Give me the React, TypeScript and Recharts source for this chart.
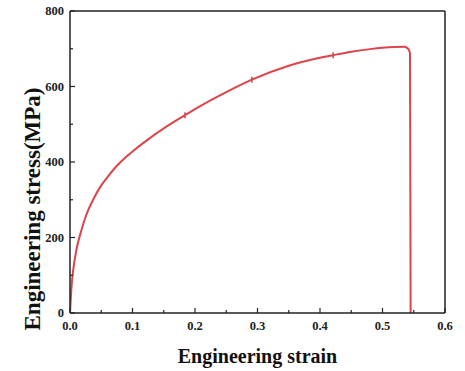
import React from "react";
import { LineChart, Line, XAxis, YAxis, ReferenceLine } from "recharts";

// strain / stress
const strain = [
  0, 0.002, 0.005, 0.01, 0.018, 0.025, 0.037, 0.05, 0.06, 0.075, 0.09, 0.1,
  0.125, 0.15, 0.184, 0.2, 0.25, 0.291, 0.35, 0.4, 0.421, 0.45, 0.48, 0.5, 0.52,
  0.535, 0.541, 0.544, 0.545,
];
const stress = [
  0, 60, 112, 165, 218, 255, 300, 338, 360, 390, 414, 428, 460, 489, 524, 540,
  585, 618, 655, 676, 683, 692, 699, 702.5, 704.5, 705, 700, 688, 0,
];
// little marks on the curve
const marked = [0.184, 0.291, 0.421];

const xTicks = [0, 0.05, 0.1, 0.15, 0.2, 0.25, 0.3, 0.35, 0.4, 0.45, 0.5, 0.55, 0.6];
const yTicks = [0, 100, 200, 300, 400, 500, 600, 700, 800];

const data = strain.map((s, i) => ({ strain: s, stress: stress[i] }));

const FONT = "'Liberation Serif', 'Times New Roman', serif";
const tickStyle = { fontFamily: FONT, fontWeight: "bold" as const, fontSize: 12.5, fill: "#222" };

const XTick = (props: any) => {
  const { x, y, payload } = props;
  const v = payload.value as number;
  const major = Math.round(v * 100) % 10 === 0;
  return (
    <g>
      <line x1={x} x2={x} y1={y} y2={y - (major ? 5 : 3)} stroke="#222" strokeWidth={1.2} />
      {major && (
        <text x={x} y={y + 17} textAnchor="middle" style={tickStyle}>
          {v.toFixed(1)}
        </text>
      )}
    </g>
  );
};

const YTick = (props: any) => {
  const { x, y, payload } = props;
  const v = payload.value as number;
  const major = v % 200 === 0;
  return (
    <g>
      <line x1={x} x2={x + (major ? 5 : 3)} y1={y} y2={y} stroke="#222" strokeWidth={1.2} />
      {major && (
        <text x={x - 6} y={y + 4} textAnchor="end" style={tickStyle}>
          {v}
        </text>
      )}
    </g>
  );
};

const YLabel = (props: any) => {
  const vb = props.viewBox || {};
  const cx = 32;
  const cy = (vb.y ?? 11) + (vb.height ?? 302) / 2 + 47;
  return (
    <text
      x={cx}
      y={cy}
      transform={`rotate(-90, ${cx}, ${cy})`}
      textAnchor="middle"
      dominantBaseline="central"
      style={{ fontFamily: FONT, fontWeight: "bold", fontSize: 23, fill: "#111" }}
    >
      Engineering stress(MPa)
    </text>
  );
};

const Dot = (props: any) => {
  const { cx, cy, payload } = props;
  if (!marked.includes(payload.strain)) return <g />;
  return <line x1={cx} x2={cx} y1={cy - 3} y2={cy + 3} stroke="#d9434a" strokeWidth={1.5} />;
};

export default function App() {
  return (
    <div style={{ position: "absolute", left: 0, top: 0, background: "#fff" }}>
      <LineChart width={465} height={371} data={data} margin={{ top: 11, right: 20, left: 0, bottom: 0 }}>
        <XAxis
          dataKey="strain"
          type="number"
          domain={[0, 0.6]}
          ticks={xTicks}
          tick={<XTick />}
          tickLine={false}
          tickSize={0}
          tickMargin={0}
          height={58}
          stroke="#222"
          strokeWidth={1.5}
          interval={0}
          allowDataOverflow
          label={{
            value: "Engineering strain",
            position: "insideBottom",
            offset: 8,
            style: { fontFamily: FONT, fontWeight: "bold", fontSize: 20, fill: "#111" },
          }}
        />
        <YAxis
          type="number"
          domain={[0, 800]}
          ticks={yTicks}
          tick={<YTick />}
          tickLine={false}
          tickSize={0}
          tickMargin={0}
          width={70}
          stroke="#222"
          strokeWidth={1.5}
          interval={0}
          label={<YLabel />}
        />
        <ReferenceLine y={800} stroke="#222" strokeWidth={1.5} />
        <ReferenceLine x={0.6} stroke="#222" strokeWidth={1.5} />
        <Line
          type="monotone"
          dataKey="stress"
          stroke="#dd4449"
          strokeWidth={2}
          dot={<Dot />}
          activeDot={false}
          isAnimationActive={false}
        />
      </LineChart>
    </div>
  );
}
